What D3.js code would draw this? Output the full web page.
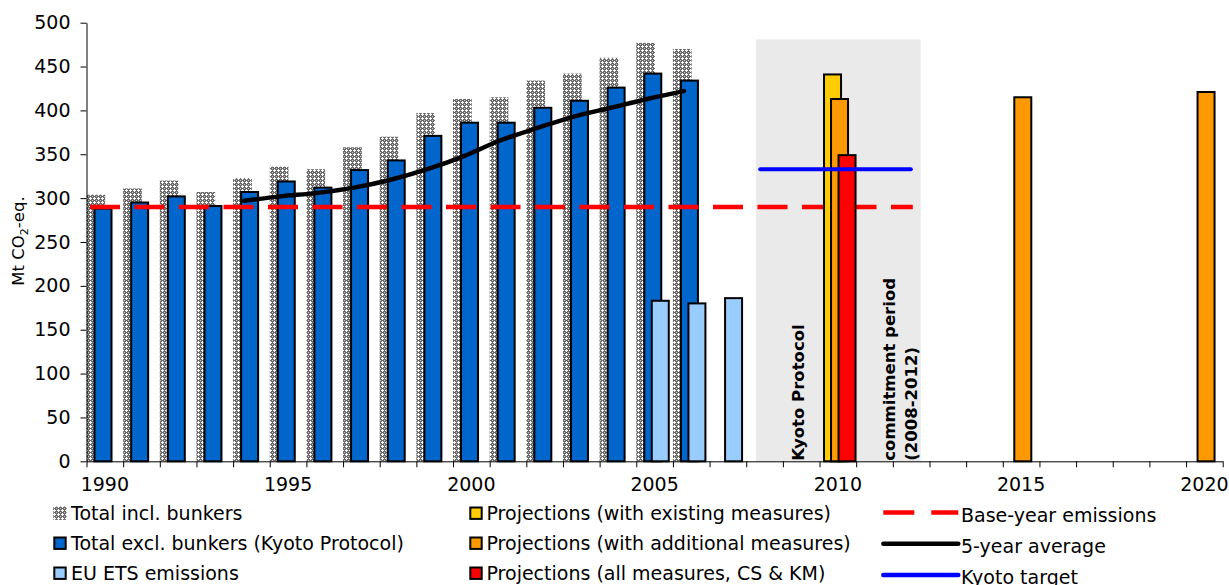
<!DOCTYPE html>
<html><head><meta charset="utf-8">
<script src="https://cdn.jsdelivr.net/npm/d3@7"></script>
<style>
body{margin:0;background:#fff}
svg{display:block}
text{font-family:"DejaVu Sans",Verdana,sans-serif;fill:#000}
</style>
</head><body>
<svg id="c" width="1229" height="585"></svg>
<script>
// ---------- DATA ----------
const allYears = [1990,1991,1992,1993,1994,1995,1996,1997,1998,1999,2000,2001,2002,2003,2004,2005,2006,2007,2008,2009,2010,2011,2012,2013,2014,2015,2016,2017,2018,2019,2020];
const histYears = [1990,1991,1992,1993,1994,1995,1996,1997,1998,1999,2000,2001,2002,2003,2004,2005,2006];
const totalInclBunkers = [304,311,320,307,323,336,333,358,370,397,413,415,434,442,460,477,470];
const totalExclBunkers = [288,295,302,291,307,319,312,332,343,371,386,386,403,411,426,442,434];
const etsYears = [2005,2006,2007];
const etsEmissions = [183,180,186];
const projExistingYears = [2010];
const projExisting = [441];
const projAdditionalYears = [2010,2015,2020];
const projAdditional = [413,415,421];
const projAllYears = [2010];
const projAll = [349];
const avgYears = [1994,1995,1996,1997,1998,1999,2000,2001,2002,2003,2004,2005,2006];
const fiveYearAvg = [297,302,306,312,321,333,348,366,380,393,403,413,422];
const baseYearValue = 290;
const baseYearSpan = [1990,2012];
const kyotoTarget = 333;
const kyotoSpan = [2008,2012];
const commitmentSpan = [2008,2012];
const commitmentTop = 481;
const yTicks = [0,50,100,150,200,250,300,350,400,450,500];
const xLabelYears = [1990,1995,2000,2005,2010,2015,2020];

const legendItems = [
  {label:"Total incl. bunkers", type:"hatch"},
  {label:"Total excl. bunkers (Kyoto Protocol)", type:"rect", color:"#0066CC"},
  {label:"EU ETS emissions", type:"rect", color:"#99CCFF"},
  {label:"Projections (with existing measures)", type:"rect", color:"#FFCC00"},
  {label:"Projections (with additional measures)", type:"rect", color:"#FF9900"},
  {label:"Projections (all measures, CS & KM)", type:"rect", color:"#FF0000"},
  {label:"Base-year emissions", type:"dash", color:"#FF0000"},
  {label:"5-year average", type:"line", color:"#000000"},
  {label:"Kyoto target", type:"line", color:"#0000FF"}
];

// ---------- LAYOUT ----------
const svg = d3.select("#c");
const X0 = 86.5, X1 = 1222.7, Y0 = 461.3, Y1 = 22.7;
const x = d3.scaleBand().domain(allYears).range([X0, X1]).padding(0);
const bw = x.bandwidth();
const y = d3.scaleLinear().domain([0, 500]).range([Y0, Y1]);

// pattern
const defs = svg.append("defs");
const pat = defs.append("pattern").attr("id","hatch").attr("patternUnits","userSpaceOnUse")
  .attr("width",4).attr("height",4);
pat.append("rect").attr("width",4).attr("height",4).attr("fill","#6a6a6a");
pat.append("rect").attr("x",1).attr("y",2).attr("width",3).attr("height",1).attr("fill","#ffffff");
pat.append("rect").attr("x",2).attr("y",1).attr("width",1).attr("height",3).attr("fill","#ffffff");
pat.append("rect").attr("x",0).attr("y",0).attr("width",1).attr("height",1).attr("fill","#cccccc");

// commitment period shading
svg.append("rect")
  .attr("x", x(commitmentSpan[0]) + 0.27*bw)
  .attr("y", y(commitmentTop))
  .attr("width", (x(commitmentSpan[1]) + 0.76*bw) - (x(commitmentSpan[0]) + 0.27*bw))
  .attr("height", Y0 - y(commitmentTop))
  .attr("fill", "#EAEAEA");

const barW = 17;
function bars(cls, yrs, vals, offset, fill, stroke) {
  svg.append("g").selectAll("rect").data(yrs.map((yr,i)=>({yr, v:vals[i]})))
    .join("rect")
    .attr("x", d => x(d.yr) + offset)
    .attr("y", d => y(d.v))
    .attr("width", cls === "hatch" ? 18.7 : barW)
    .attr("height", d => Y0 - y(d.v))
    .attr("fill", fill)
    .attr("stroke", stroke ? "#000" : "none")
    .attr("stroke-width", stroke ? 2 : 0);
}
bars("hatch", histYears, totalInclBunkers, 0, "url(#hatch)", false);
bars("blue", histYears, totalExclBunkers, 8, "#0066CC", true);
bars("ets", etsYears, etsEmissions, 15.5, "#99CCFF", true);

// base-year dashed line (behind projections)
svg.append("line")
  .attr("x1", x(baseYearSpan[0]) + 3.5).attr("x2", x(baseYearSpan[1]) + 20)
  .attr("y1", y(baseYearValue)).attr("y2", y(baseYearValue))
  .attr("stroke", "#FF0000").attr("stroke-width", 4.5)
  .attr("stroke-dasharray", "30,14.5");

bars("exist", projExistingYears, projExisting, 4.5, "#FFCC00", true);
bars("add", projAdditionalYears, projAdditional, 11.5, "#FF9900", true);
bars("all", projAllYears, projAll, 19, "#FF0000", true);

// 5-year average
svg.append("path")
  .datum(avgYears.map((yr,i)=>[x(yr) + 0.3*bw, y(fiveYearAvg[i])]))
  .attr("d", d3.line().curve(d3.curveMonotoneX))
  .attr("fill","none").attr("stroke","#000").attr("stroke-width",4.5).attr("stroke-linecap","round");

// Kyoto target
svg.append("line")
  .attr("x1", x(kyotoSpan[0]) + 14).attr("x2", x(kyotoSpan[1]) + 18)
  .attr("y1", y(kyotoTarget)).attr("y2", y(kyotoTarget))
  .attr("stroke", "#0000FF").attr("stroke-width", 4).attr("stroke-linecap","round");

// rotated labels
const rotTxt = (tx, ty, s) => svg.append("text")
  .attr("transform", `translate(${tx},${ty}) rotate(-90)`)
  .attr("font-weight","bold").attr("font-size","16.5px").text(s);
rotTxt(804, 460.7, "Kyoto Protocol");
rotTxt(895, 460.7, "commitment period");
rotTxt(917, 460.7, "(2008-2012)");

// axes
const yAxis = svg.append("g").attr("transform",`translate(${X0},0)`)
  .call(d3.axisLeft(y).tickValues(yTicks).tickSize(6).tickPadding(10).tickSizeOuter(0));
yAxis.selectAll("text").attr("font-size","19px").style("font-family",'"DejaVu Sans",Verdana,sans-serif');
yAxis.selectAll("line,path").attr("stroke","#000");

const xb = d3.scaleLinear().domain([allYears[0], allYears[allYears.length-1]+1]).range([X0, X1]);
const boundaries = allYears.concat([allYears[allYears.length-1]+1]);
const xAxis = svg.append("g").attr("transform",`translate(0,${Y0})`)
  .call(d3.axisBottom(xb).tickValues(boundaries).tickFormat("").tickSize(6).tickSizeOuter(0));
xAxis.selectAll("line,path").attr("stroke","#000");

const xLab = svg.append("g").attr("transform",`translate(0,${Y0})`)
  .call(d3.axisBottom(x).tickValues(xLabelYears).tickSize(0).tickPadding(16.5));
xLab.select(".domain").remove();
xLab.selectAll("text").attr("font-size","19px").style("font-family",'"DejaVu Sans",Verdana,sans-serif');

// y title
const yt = svg.append("text")
  .attr("transform","translate(24,241) rotate(-90)")
  .attr("text-anchor","middle").attr("font-size","16.5px");
yt.append("tspan").text("Mt CO");
yt.append("tspan").attr("font-size","11px").attr("dy","4").text("2");
yt.append("tspan").attr("dy","-4").text("-eq.");

// legend
const colX = [[54.3,71],[470.3,486.5],[883.3,961]];
const rowBase = [[520,550,580],[520,550,580],[521.5,552.7,584]];
legendItems.forEach((it, i) => {
  const c = Math.floor(i/3), r = i%3;
  const bx = colX[c][0], tx = colX[c][1], by = rowBase[c][r];
  const g = svg.append("g");
  if (it.type === "hatch") {
    g.append("rect").attr("x",bx-1).attr("y",by-13.5).attr("width",13.4).attr("height",13.4).attr("fill","url(#hatch)");
  } else if (it.type === "rect") {
    g.append("rect").attr("x",bx).attr("y",by-12.5).attr("width",11.4).attr("height",11.4)
      .attr("fill",it.color).attr("stroke","#000").attr("stroke-width",2);
  } else {
    g.append("line").attr("x1",bx).attr("x2",bx+75).attr("y1",by-9).attr("y2",by-9)
      .attr("stroke",it.color).attr("stroke-width",4.5)
      .attr("stroke-dasharray", it.type==="dash" ? "31,17" : null)
      .attr("stroke-linecap", it.type==="dash" ? "butt" : "round");
  }
  g.append("text").attr("x",tx).attr("y",by).attr("font-size","19px").text(it.label);
});
</script>
</body></html>
